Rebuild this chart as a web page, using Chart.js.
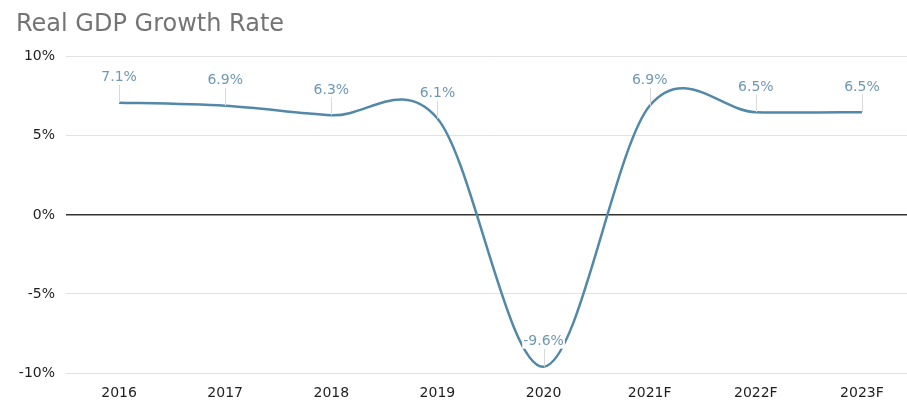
<!DOCTYPE html>
<html>
<head>
<meta charset="utf-8">
<script src="https://cdn.jsdelivr.net/npm/chart.js@4"></script>
<style>
  html, body { margin: 0; padding: 0; background: #fff; overflow: hidden; }
</style>
</head>
<body>
<canvas id="myChart" width="915" height="401"></canvas>
<script>
const ctx = document.getElementById("myChart");

// values
const years = ['2016', '2017', '2018', '2019', '2020', '2021F', '2022F', '2023F']
const growth = [7.1, 6.9, 6.3, 6.1, -9.6, 6.9, 6.5, 6.5]
const yTicks = [-10, -5, 0, 5, 10]

const lineColor = '#5288a8'
const labelColor = '#6e98b4'

// spreadsheet-style smoothing: catmull-rom control points from the
// scaled point positions (chart.js weights them by distance instead)
const smoothLine = {
  id: 'smoothLine',
  beforeDatasetDraw(chart, args) {
    const pts = args.meta.data
    pts.forEach(function(pt, i){
      const prev = pts[i-1] || pt
      const next = pts[i+1] || pt
      const dx = (next.x - prev.x) / 6
      const dy = (next.y - prev.y) / 6
      pt.cp1x = pt.x - dx
      pt.cp1y = pt.y - dy
      pt.cp2x = pt.x + dx
      pt.cp2y = pt.y + dy
    })
    args.meta.dataset._pointsUpdated = true
  }
}

// labels sit above each point, with a thin leader line down to it
const pointLabels = {
  id: 'pointLabels',
  afterDatasetsDraw(chart) {
    const c = chart.ctx
    const meta = chart.getDatasetMeta(0)
    c.save()
    c.font = '14px "DejaVu Sans"'
    c.textAlign = 'center'
    c.textBaseline = 'middle'
    meta.data.forEach(function(pt, i){
      const txt = growth[i].toFixed(1) + '%'
      const ly = pt.y - 25
      c.strokeStyle = '#d9d9d9'
      c.lineWidth = 1
      c.beginPath()
      c.moveTo(Math.round(pt.x) + 0.5, ly + 7)
      c.lineTo(Math.round(pt.x) + 0.5, pt.y)
      c.stroke()
      const w = c.measureText(txt).width
      c.fillStyle = '#fff'
      c.fillRect(pt.x - w/2 - 1, ly - 7, w + 2, 14)
      c.fillStyle = labelColor
      c.fillText(txt, pt.x, ly)
    })
    c.restore()
  }
}

const myChart = new Chart(ctx, {
  type: 'line',
  data: {
    labels: years,
    datasets: [{
      label: 'Real GDP Growth Rate',
      data: growth,
      borderColor: lineColor,
      borderWidth: 2.5,
      pointRadius: 0,
      tension: 0.4,
      fill: false
    }]
  },
  options: {
    responsive: false,
    animation: false,
    layout: { padding: { left: 16, right: 0, top: 0, bottom: 0 } },
    plugins: {
      legend: { display: false },
      tooltip: { enabled: false },
      title: {
        display: true,
        text: 'Real GDP Growth Rate',
        align: 'start',
        color: '#747474',
        font: { family: '"DejaVu Sans"', size: 24, weight: 'normal' },
        padding: { top: 10, bottom: 18 }
      }
    },
    scales: {
      x: {
        offset: true,
        grid: { display: false, offset: true },
        border: { display: false },
        ticks: {
          color: '#1e1e1e',
          font: { family: '"DejaVu Sans"', size: 14 },
          padding: 4,
          maxRotation: 0
        },
        afterFit(scale) { scale.height = 28 }
      },
      y: {
        min: -10,
        max: 10,
        border: { display: false },
        afterBuildTicks(scale) { scale.ticks = yTicks.map(v => ({ value: v })) },
        grid: {
          drawTicks: false,
          color: c => c.tick && c.tick.value === 0 ? '#333' : '#e2e2e2',
          lineWidth: c => c.tick && c.tick.value === 0 ? 1.5 : 1
        },
        ticks: {
          color: '#1e1e1e',
          font: { family: '"DejaVu Sans"', size: 14 },
          padding: 11,
          callback: v => v + '%'
        },
        afterFit(scale) { scale.width = 50 }
      }
    }
  },
  plugins: [smoothLine, pointLabels]
});
</script>
</body>
</html>
